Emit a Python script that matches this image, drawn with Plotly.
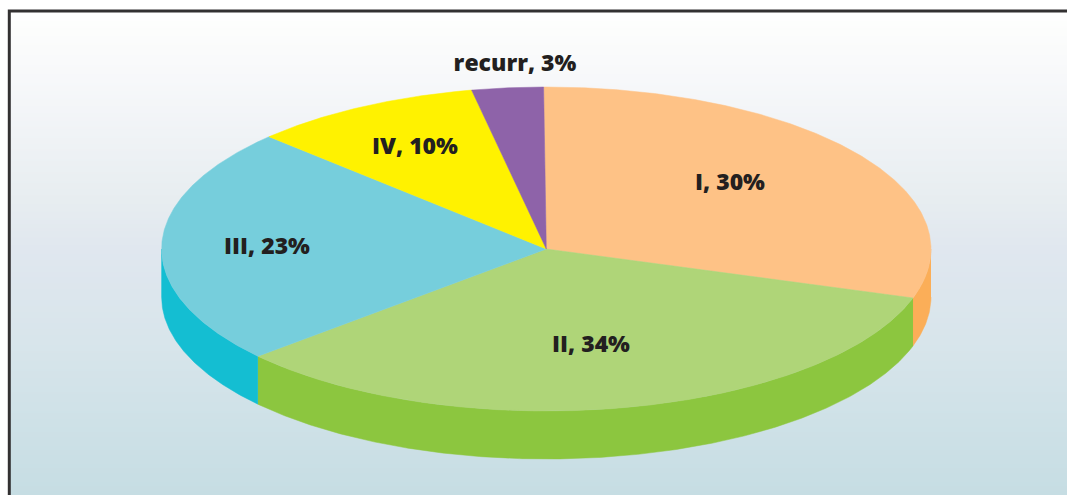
"""Stage distribution shown as a tilted pie with a rim, on a soft vertical gradient."""
import numpy as np
import plotly.graph_objects as go

# chart data
stages = ["I", "II", "III", "IV", "recurr"]
label_pct = [30, 34, 23, 10, 3]
# slice sizes as drawn in the picture, they differ a little from the rounded labels
drawn_pct = [30.0, 33.6, 23.7, 9.7, 3.0]

top_colors = ["#FEC286", "#AFD578", "#76CEDC", "#FFF200", "#8E63A9"]
rim_colors = ["#FBAE58", "#8CC63F", "#14BED2", "#FFF200", "#8E63A9"]
label_x = [730, 591, 267, 415, 515]
label_y = [184, 346, 248, 148, 65]

# pie geometry in page pixels
CX, CY = 546.3, 249
RX, RY = 384.7, 162
DEPTH = 48
START_DEG = -0.4
TEXT_COLOR = "#231F20"
BORDER_COLOR = "#333132"

W, H = 1067, 495
BOX_LEFT, BOX_TOP = 9.3, 11


def arc(t0, t1):
    """Ellipse points going clockwise from the top, angles in degrees."""
    t = np.radians(np.linspace(t0, t1, max(int(abs(t1 - t0) * 3), 2)))
    return CX + RX * np.sin(t), CY - RY * np.cos(t)


cum = np.cumsum([0] + drawn_pct) / sum(drawn_pct) * 360 + START_DEG

fig = go.Figure()

# background gradient, one row per pixel
grad_stops = [(0.0, "#FFFFFF"), (0.04, "#FCFDFC"), (0.14, "#F7F8FA"), (0.25, "#F0F3F6"),
              (0.39, "#E7EDF0"), (0.49, "#E0E7EF"), (0.68, "#D8E5EB"), (0.85, "#CEE1E7"),
              (1.0, "#C6DDE3")]
edges = np.arange(BOX_TOP, H + 1)
rows = (edges[:-1] - BOX_TOP) / (H - BOX_TOP)
fig.add_trace(go.Heatmap(x=[BOX_LEFT, W], y=edges, z=rows.reshape(-1, 1), zmin=0, zmax=1,
    colorscale=[[s, c] for s, c in grad_stops], showscale=False, hoverinfo="skip"))

# rim, only the part of each slice on the near side
for i in range(len(drawn_pct)):
    t0, t1 = max(cum[i], 90), min(cum[i + 1], 270)
    if t1 <= t0:
        continue
    x, y = arc(t0, t1)
    fig.add_trace(go.Scatter(
        x=np.concatenate([x, x[::-1]]), y=np.concatenate([y, y[::-1] + DEPTH]),
        mode="lines", fill="toself", fillcolor=rim_colors[i],
        line=dict(color=rim_colors[i], width=0.5), showlegend=False, hoverinfo="skip"))

# top face
for i in range(len(drawn_pct)):
    x, y = arc(cum[i], cum[i + 1])
    fig.add_trace(go.Scatter(
        x=np.concatenate([[CX], x, [CX]]), y=np.concatenate([[CY], y, [CY]]),
        mode="lines", fill="toself", fillcolor=top_colors[i],
        line=dict(color=top_colors[i], width=0.5), showlegend=False, hoverinfo="skip"))

fig.add_trace(go.Scatter(
    x=label_x, y=label_y, mode="text",
    text=[f"{s}, {v}%" for s, v in zip(stages, label_pct)],
    textposition="middle center",
    textfont=dict(family="Open Sans", size=23, color=TEXT_COLOR, weight=800),
    showlegend=False, hoverinfo="skip"))

fig.update_layout(
    width=W, height=H, margin=dict(l=0, r=0, t=0, b=0),
    paper_bgcolor="white", plot_bgcolor="white",
    xaxis=dict(range=[0, W], visible=False, fixedrange=True),
    yaxis=dict(range=[H, 0], visible=False, fixedrange=True),
    shapes=[dict(type="rect", x0=BOX_LEFT, y0=BOX_TOP, x1=W + 20, y1=H + 20,
                 line=dict(color=BORDER_COLOR, width=3), layer="above")],
)

fig.write_html("out.html", config=dict(displayModeBar=False),
               post_script="document.body.style.margin='0';")
